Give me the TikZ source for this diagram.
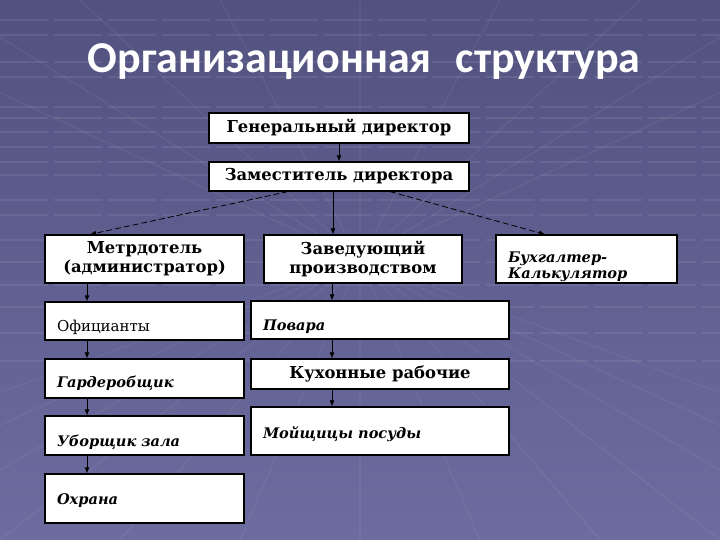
\documentclass[tikz,border=0pt]{standalone}
\usepackage{fontspec}
\setmainfont{DejaVu Serif}
\newfontfamily\titlefont{Carlito}
\usetikzlibrary{arrows.meta}
\definecolor{bgtop}{RGB}{82,82,128}
\definecolor{bgbot}{RGB}{108,108,160}

\tikzset{
  box/.style={draw=black,line width=1.2pt,fill=white,inner sep=0pt,
    font=\fontsize{16.4}{19}\selectfont\bfseries},
  lbox/.style={box,align=left,inner xsep=12pt,text height=#1,text depth=0pt,
    font=\fontsize{14.6}{16}\selectfont\bfseries\itshape},
  arr/.style={-{Latex[length=6pt,width=5pt]},line width=0.8pt,black},
  darr/.style={arr,dash pattern=on 6pt off 3pt},
  bgline/.style={white,opacity=0.08,line width=1.5pt},
}

\begin{document}
\begin{tikzpicture}[x=1pt,y=-1pt]
  \def\lw{199}
  \def\rw{258}
  \def\ox{-57.5pt}
  \def\px{-48pt}
  % background
  \shade[top color=bgtop,bottom color=bgbot] (0,0) rectangle (720,540);
  \useasboundingbox (0,0) rectangle (720,540);
  \foreach \yy in {20,35,62,77,107,118,132,147,162,175,200,215,240,262,285,307,333,361}
    \draw[bgline,dash pattern=on 48pt off 6pt] (0,\yy)--(720,\yy);
  \foreach \xx in {-400,-250,-120,0,120,240,360,480,600,720,840,970,1120}
    \draw[bgline,opacity=0.05] (360,260)--(\xx,540);
  \foreach \xx in {-200,-60,80,220,360,500,640,780,920}
    \draw[bgline,opacity=0.05] (360,260)--(\xx,0);
  % title
  \node[text=white,font=\titlefont\bfseries\fontsize{44}{50}\selectfont] (title) at (364,62)
    {Организационная\hspace{24pt}структура};
  % top
  \node[box,minimum width=260pt,minimum height=30pt] (gen) at (339,128) {Генеральный директор};
  \node[box,minimum width=260pt,minimum height=29pt] (zam) at (339,176.5) {Заместитель директора};
  % second row
  \node[box,minimum width=\lw pt,minimum height=48pt,align=center] (metr) at (144.5,259)
    {Метрдотель\\(администратор)};
  \node[box,minimum width=198pt,minimum height=48pt,align=center] (zav) at (363,259)
    {Заведующий\\производством};
  \node[lbox=6pt,minimum width=181pt,minimum height=48pt,text width=157pt] (buh) at (586.5,259)
    {Бухгалтер-\\Калькулятор};
  % left column
  \node[lbox=21pt,minimum width=\lw pt,minimum height=38pt,text width=175pt,
    font=\fontsize{15}{15}\selectfont\mdseries\upshape] (ofic) at (144.5,321) {Официанты};
  \node[lbox=18pt,minimum width=\lw pt,minimum height=39pt,text width=175pt] (gard) at (144.5,378.5) {Гардеробщик};
  \node[lbox=21pt,minimum width=\lw pt,minimum height=39pt,text width=175pt] (ubor) at (144.5,435.5) {Уборщик зала};
  \node[lbox=11pt,minimum width=\lw pt,minimum height=49pt,text width=175pt] (ohr) at (144.5,498.5) {Охрана};
  % right column
  \node[lbox=21pt,minimum width=\rw pt,minimum height=38pt,text width=234pt] (pov) at (380,320) {Повара};
  \node[box,minimum width=\rw pt,minimum height=30pt] (kuh) at (380,374) {Кухонные рабочие};
  \node[lbox=14pt,minimum width=\rw pt,minimum height=48pt,text width=234pt] (moy) at (380,431) {Мойщицы посуды};
  % connectors
  \draw[arr] (gen) -- (zam);
  \draw[darr] ([xshift=-51pt]zam.south) -- ([xshift=-54.5pt]metr.north);
  \draw[arr] ([xshift=-6pt]zam.south) -- ([xshift=-30pt]zav.north);
  \draw[darr] ([xshift=51pt]zam.south) -- ([xshift=-41.5pt]buh.north);
  \draw[arr] ([xshift=\ox]metr.south) -- ([xshift=\ox]ofic.north);
  \draw[arr] ([xshift=\ox]ofic.south) -- ([xshift=\ox]gard.north);
  \draw[arr] ([xshift=\ox]gard.south) -- ([xshift=\ox]ubor.north);
  \draw[arr] ([xshift=\ox]ubor.south) -- ([xshift=\ox]ohr.north);
  \draw[arr] ([xshift=-31pt]zav.south) -- ([xshift=\px]pov.north);
  \draw[arr] ([xshift=\px]pov.south) -- ([xshift=\px]kuh.north);
  \draw[arr] ([xshift=\px]kuh.south) -- ([xshift=\px]moy.north);
\end{tikzpicture}
\end{document}
